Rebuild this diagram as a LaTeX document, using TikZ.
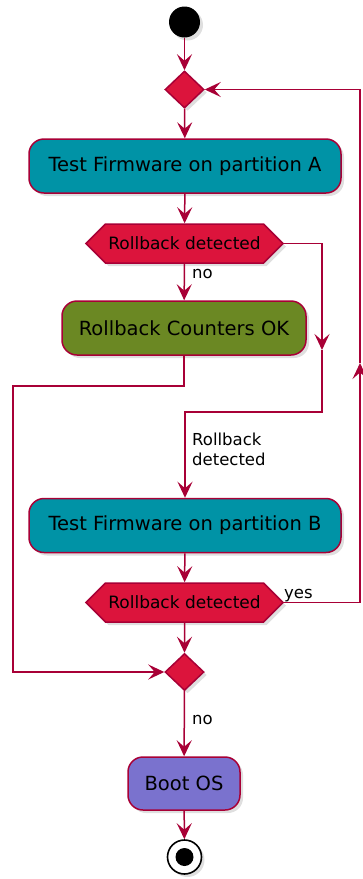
\documentclass[tikz,border=0pt]{standalone}
\usepackage{fontspec}
\setmainfont{DejaVu Sans}
\usetikzlibrary{arrows.meta,shapes.geometric,shapes.symbols,shadows}
\definecolor{umlline}{HTML}{A80036}
\definecolor{umlred}{HTML}{DC143C}
\definecolor{umlteal}{RGB}{0,147,166}
\definecolor{umlolive}{RGB}{107,136,35}
\definecolor{umlviolet}{RGB}{122,114,206}
\begin{document}
\begin{tikzpicture}[x=1pt,y=-1pt]
	\tikzstyle{umlshadow}=[drop shadow={shadow xshift=3pt,shadow yshift=-3pt,opacity=0.25}]
	\tikzstyle{flow}=[draw=umlline,line width=1.5pt,-{Stealth[length=16pt,width=15pt,inset=6.5pt]}]
	\tikzstyle{activity}=[draw=umlline,line width=1.5pt,rounded corners=15pt,minimum height=54pt,inner sep=0pt,umlshadow,font=\fontsize{19.5}{23}\selectfont]
	\tikzstyle{merge}=[diamond,draw=umlline,fill=umlred,line width=1.5pt,minimum width=39pt,minimum height=37pt,inner sep=0pt,umlshadow]
	\tikzstyle{test}=[signal,signal to=east and west,draw=umlline,fill=umlred,line width=1.5pt,minimum width=197pt,minimum height=39pt,inner sep=0pt,umlshadow,font=\fontsize{17}{20}\selectfont]
	\tikzstyle{guard}=[font=\fontsize{16.5}{20}\selectfont,inner sep=0pt]

	\useasboundingbox (0,0) rectangle (363,879);

	% nodes
	\node[circle,fill=black,minimum size=31pt,inner sep=0pt,umlshadow] (start) at (184.5,22) {};
	\node[merge] (mergeA) at (184.5,89.5) {};
	\node[activity,fill=umlteal,minimum width=312pt] (testA) at (185,166) {Test Firmware on partition A};
	\node[test] (hexA) at (184.5,243.5) {Rollback detected};
	\node[activity,fill=umlolive,minimum width=244pt] (counters) at (184,328) {Rollback Counters OK};
	\node[activity,fill=umlteal,minimum width=312pt] (testB) at (185,525.5) {Test Firmware on partition B};
	\node[test] (hexB) at (184.5,602.5) {Rollback detected};
	\node[merge] (mergeB) at (184.5,672) {};
	\node[activity,fill=umlviolet,minimum width=112pt,minimum height=53pt] (boot) at (184,783.5) {Boot OS};
	\node[circle,draw=black,line width=1.6pt,fill=white,minimum size=34pt,inner sep=0pt,umlshadow] (stop) at (184.5,857) {};
	\node[circle,fill=black,minimum size=18pt,inner sep=0pt] (stopdot) at (stop) {};

	% bends
	\coordinate (skipA) at (322,350);
	\coordinate (joinA) at (322,412);
	\coordinate (leftA) at (13,386);
	\coordinate (loopB) at (360,363);

	% connectors
	\draw[flow] (start) -- (mergeA);
	\draw[flow] (mergeA) -- (testA);
	\draw[flow] (testA) -- (hexA);
	\draw[flow] (hexA) -- (counters);
	\draw[flow] (hexA.east) -| (skipA);
	\draw[flow] (skipA) -- (joinA) -| (testB);
	\draw[flow] (counters) |- (leftA) |- (mergeB);
	\draw[flow] (testB) -- (hexB);
	\draw[flow] (hexB) -- (mergeB);
	\draw[flow] (hexB.east) -| (loopB);
	\draw[flow] (loopB) |- (mergeA);
	\draw[flow] (mergeB) -- (boot);
	\draw[flow] (boot) -- (stop);

	% labels
	\node[guard,anchor=west] (noA) at (192,274) {no};
	\node[guard,anchor=north west,align=left] (detA) at (192,433) {Rollback\\detected};
	\node[guard,anchor=base west] (yesB) at (284,598) {yes};
	\node[guard,anchor=west] (noB) at (192,720) {no};
\end{tikzpicture}
\end{document}
